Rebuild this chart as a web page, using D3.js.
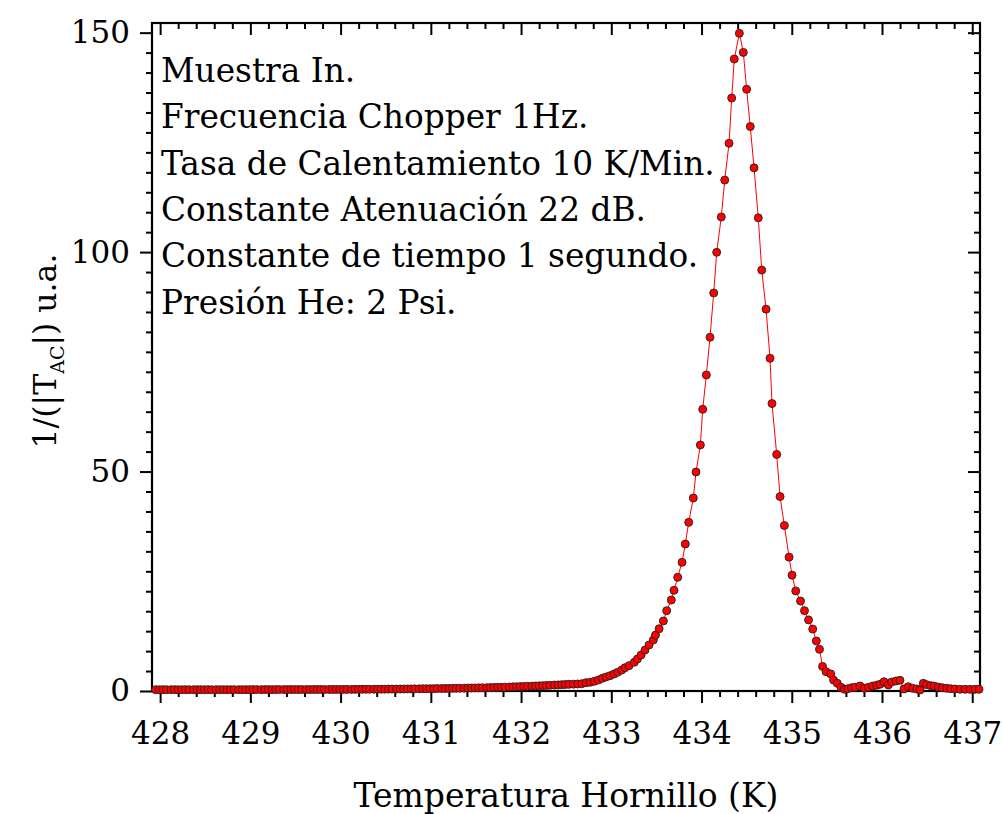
<!DOCTYPE html>
<html>
<head>
<meta charset="utf-8">
<script src="https://cdn.jsdelivr.net/npm/d3@7"></script>
<style>
  body { margin: 0; background: #fff; }
  text { font-family: "DejaVu Serif", serif; fill: #000; }
</style>
</head>
<body>
<div id="chart"></div>
<script>
// Temperature readings (K)
const temps = [
  427.95, 427.99, 428.03, 428.07, 428.12, 428.16, 428.20, 428.24, 428.28, 428.32, 428.37, 428.41, 428.45,
  428.49, 428.53, 428.57, 428.62, 428.66, 428.70, 428.74, 428.78, 428.82, 428.87, 428.91, 428.95, 428.99,
  429.03, 429.07, 429.12, 429.16, 429.20, 429.24, 429.28, 429.32, 429.37, 429.41, 429.45, 429.49,
  429.53, 429.57, 429.62, 429.66, 429.70, 429.74, 429.78, 429.82, 429.87, 429.91, 429.95, 429.99,
  430.03, 430.07, 430.12, 430.16, 430.20, 430.24, 430.28, 430.32, 430.37, 430.41, 430.45, 430.49,
  430.53, 430.57, 430.62, 430.66, 430.70, 430.74, 430.78, 430.82, 430.87, 430.91, 430.95, 430.99,
  431.03, 431.07, 431.12, 431.16, 431.20, 431.24, 431.28, 431.32, 431.37, 431.41, 431.45, 431.49,
  431.53, 431.57, 431.62, 431.66, 431.70, 431.74, 431.78, 431.82, 431.87, 431.91, 431.95, 431.99,
  432.03, 432.07, 432.12, 432.16, 432.20, 432.24, 432.28, 432.32, 432.37, 432.41, 432.45, 432.49,
  432.53, 432.58,
  432.628, 432.673, 432.720, 432.765, 432.812, 432.857, 432.900, 432.942, 432.986, 433.030,
  433.070, 433.116, 433.152, 433.197, 433.255, 433.289, 433.330, 433.374, 433.418, 433.466,
  433.490, 433.530, 433.577, 433.614, 433.665, 433.695, 433.736, 433.784, 433.820, 433.858,
  433.909, 433.939, 433.987, 434.013, 434.053, 434.094, 434.135, 434.168, 434.219, 434.257,
  434.305, 434.334, 434.363, 434.419, 434.463, 434.500, 434.540, 434.582, 434.629, 434.667,
  434.715, 434.759, 434.781, 434.833, 434.870, 434.918, 434.970, 435.003, 435.044, 435.097,
  435.141, 435.186, 435.232, 435.272, 435.307, 435.341, 435.380, 435.432, 435.463, 435.505,
  435.546, 435.583, 435.620, 435.662, 435.700, 435.756, 435.804, 435.848, 435.897, 435.941,
  435.978, 436.022, 436.070, 436.107, 436.155, 436.199, 436.244, 436.291, 436.340, 436.385,
  436.421, 436.458, 436.495, 436.540, 436.576, 436.624, 436.668, 436.717, 436.761, 436.809,
  436.864, 436.920, 436.975, 437.030, 437.075
];

// 1/(|T_AC|) in arbitrary units
const signal = [
  0.30, 0.29, 0.31, 0.30, 0.30, 0.31, 0.29, 0.30, 0.31, 0.30, 0.30, 0.31, 0.30,
  0.29, 0.31, 0.30, 0.31, 0.30, 0.31, 0.30, 0.30, 0.31, 0.31, 0.30, 0.31, 0.31,
  0.31, 0.32, 0.31, 0.32, 0.32, 0.31, 0.32, 0.33, 0.32, 0.32, 0.33, 0.33,
  0.32, 0.33, 0.34, 0.33, 0.34, 0.34, 0.35, 0.34, 0.35, 0.35, 0.36, 0.36,
  0.36, 0.37, 0.37, 0.38, 0.38, 0.39, 0.39, 0.40, 0.40, 0.41, 0.42, 0.42,
  0.43, 0.44, 0.44, 0.45, 0.46, 0.47, 0.48, 0.49, 0.50, 0.51, 0.52, 0.53,
  0.54, 0.55, 0.56, 0.58, 0.59, 0.60, 0.62, 0.63, 0.65, 0.66, 0.68, 0.70,
  0.72, 0.74, 0.76, 0.78, 0.80, 0.83, 0.85, 0.88, 0.91, 0.94, 0.97, 1.00,
  1.03, 1.07, 1.11, 1.14, 1.18, 1.22, 1.26, 1.30, 1.35, 1.39, 1.44, 1.48,
  1.52, 1.56,
  1.60, 1.66, 1.89, 1.98, 2.21, 2.51, 2.89, 3.19, 3.49, 3.87,
  4.26, 4.78, 5.31, 5.77, 6.54, 7.29, 8.20, 9.34, 10.48, 11.62,
  12.76, 14.19, 15.95, 18.30, 20.73, 22.94, 25.91, 29.32, 33.49, 38.43,
  43.97, 49.90, 56.05, 64.18, 72.00, 80.59, 90.68, 99.95, 108.0, 116.4,
  124.8, 135.1, 144.0, 149.85, 145.5, 137.1, 128.6, 119.2, 107.8, 95.9,
  87.0, 75.8, 65.5, 53.9, 44.3, 37.7, 30.5, 26.4, 22.8, 20.5,
  18.3, 16.2, 14.1, 11.4, 9.5, 5.6, 4.4, 3.9, 2.5, 1.75,
  0.84, 0.40, 0.50, 0.75, 0.84, 1.14, 0.62, 0.84, 1.14, 1.30,
  1.53, 2.12, 1.37, 2.05, 2.28, 2.44, 0.46, 0.98, 0.62, 0.46,
  0.23, 1.75, 1.44, 1.21, 1.14, 0.91, 0.75, 0.62, 0.52, 0.46,
  0.39, 0.39, 0.38, 0.38, 0.38
];

const xTicks = [428, 429, 430, 431, 432, 433, 434, 435, 436, 437];
const yTicks = [0, 50, 100, 150];

const notes = [
  "Muestra In.",
  "Frecuencia Chopper 1Hz.",
  "Tasa de Calentamiento 10 K/Min.",
  "Constante Atenuación 22 dB.",
  "Constante de tiempo 1 segundo.",
  "Presión He: 2 Psi."
];

const data = temps.map((t, i) => ({ t: t, v: signal[i] }));

const W = 1003, H = 814;
const plotL = 152, plotR = 980, plotT = 23, plotB = 691;

const svg = d3
  .select("#chart")
  .append("svg")
  .attr("width", W)
  .attr("height", H);

svg.append("rect").attr("width", W).attr("height", H).attr("fill", "#fff");

// Scales
const x = d3.scaleLinear().domain([427.91, 437.086]).range([plotL, plotR]);
const y = d3.scaleLinear().domain([0, 152.2]).range([plotB, plotT]);

// Minor tick positions
const xMinor = d3.range(428, 437.05, 0.2).filter((d) => Math.abs(d - Math.round(d)) > 0.01);
const yMinor = d3.range(0, 152.2, 50 / 11).filter((d) => Math.abs(d / 50 - Math.round(d / 50)) > 0.01);

function styleAxis(g) {
  g.selectAll("path.domain").remove();
  g.selectAll("line").attr("stroke", "#000").attr("stroke-width", 2);
}

// Bottom axis (outward ticks + labels)
svg.append("g")
  .attr("transform", `translate(0,${plotB})`)
  .call(d3.axisBottom(x).tickValues(xMinor).tickSize(6).tickFormat(""))
  .call(styleAxis);
svg.append("g")
  .attr("transform", `translate(0,${plotB})`)
  .call(d3.axisBottom(x).tickValues(xTicks).tickSize(12).tickPadding(19).tickFormat(d3.format("d")))
  .call(styleAxis)
  .selectAll("text")
  .style("font-size", "31px");

// Top axis (inward ticks)
svg.append("g")
  .attr("transform", `translate(0,${plotT})`)
  .call(d3.axisTop(x).tickValues(xMinor).tickSize(-6).tickFormat(""))
  .call(styleAxis);
svg.append("g")
  .attr("transform", `translate(0,${plotT})`)
  .call(d3.axisTop(x).tickValues(xTicks).tickSize(-12).tickFormat(""))
  .call(styleAxis);

// Left axis (outward ticks + labels)
svg.append("g")
  .attr("transform", `translate(${plotL},0)`)
  .call(d3.axisLeft(y).tickValues(yMinor).tickSize(6).tickFormat(""))
  .call(styleAxis);
svg.append("g")
  .attr("transform", `translate(${plotL},0)`)
  .call(d3.axisLeft(y).tickValues(yTicks).tickSize(12).tickPadding(10).tickFormat(d3.format("d")))
  .call(styleAxis)
  .selectAll("text")
  .style("font-size", "31px");

// Right axis (inward ticks)
svg.append("g")
  .attr("transform", `translate(${plotR},0)`)
  .call(d3.axisRight(y).tickValues(yMinor).tickSize(-6).tickFormat(""))
  .call(styleAxis);
svg.append("g")
  .attr("transform", `translate(${plotR},0)`)
  .call(d3.axisRight(y).tickValues(yTicks).tickSize(-12).tickFormat(""))
  .call(styleAxis);

// Frame
svg.append("rect")
  .attr("x", plotL)
  .attr("y", plotT)
  .attr("width", plotR - plotL)
  .attr("height", plotB - plotT)
  .attr("fill", "none")
  .attr("stroke", "#000")
  .attr("stroke-width", 2.2);

// Connecting line
const line = d3.line().x((d) => x(d.t)).y((d) => y(d.v));
svg.append("path")
  .datum(data)
  .attr("d", line)
  .attr("fill", "none")
  .attr("stroke", "#ff0000")
  .attr("stroke-width", 1);

// Markers
svg.selectAll(".dot")
  .data(data)
  .enter()
  .append("circle")
  .attr("class", "dot")
  .attr("cx", (d) => x(d.t))
  .attr("cy", (d) => y(d.v))
  .attr("r", 4)
  .attr("fill", "#ff0000")
  .attr("stroke", "#222")
  .attr("stroke-width", 0.9);

// Annotation block
svg.append("g")
  .selectAll("text")
  .data(notes)
  .enter()
  .append("text")
  .attr("x", 161)
  .attr("y", (d, i) => 82 + i * 46.3)
  .style("font-size", "32.8px")
  .text((d) => d);

// Axis titles
svg.append("text")
  .attr("x", 566)
  .attr("y", 807)
  .attr("text-anchor", "middle")
  .style("font-size", "33px")
  .text("Temperatura Hornillo (K)");

const yTitle = svg.append("text")
  .attr("transform", "translate(56,351) rotate(-90)")
  .attr("text-anchor", "middle")
  .style("font-size", "31.5px");
yTitle.append("tspan").text("1/(|T");
yTitle.append("tspan").attr("dy", 8).style("font-size", "19px").text("AC");
yTitle.append("tspan").attr("dy", -8).text("|) u.a.");
</script>
</body>
</html>
